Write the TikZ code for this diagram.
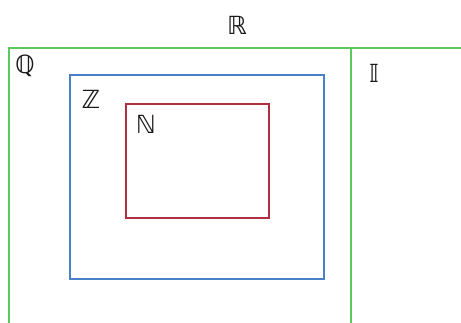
\documentclass[tikz,border=0pt]{standalone}
\usepackage{fontspec}
\newfontfamily\dsfont{DejaVu Sans}
\usetikzlibrary{positioning}
\definecolor{setgreen}{RGB}{92,200,92}
\definecolor{setblue}{RGB}{74,128,200}
\definecolor{setred}{RGB}{176,48,64}
\tikzset{
  setbox/.style={draw, line width=1.6pt, inner sep=0pt, anchor=north west},
  setlabel/.style={inner sep=0pt, font=\dsfont\fontsize{25}{25}\selectfont, text=black!90},
}
\begin{document}
\begin{tikzpicture}[x=1pt,y=-1pt]
\useasboundingbox (0,0) rectangle (461,322);
\clip (0,0) rectangle (461,322);
\fill[white] (0,0) rectangle (461,322);
% outer green frame (extends past the picture edge)
\node[setbox, draw=setgreen, minimum width=480pt, minimum height=300pt] (Q) at (8,47) {};
\coordinate (divtop) at (351,47);
\coordinate (divbot) at (351,330);
\draw[setgreen, line width=1.6pt] (divtop) -- (divbot);
% blue and red boxes
\node[setbox, draw=setblue, minimum width=254pt, minimum height=204pt] (Z) at (69,74) {};
\node[setbox, draw=setred, minimum width=143pt, minimum height=114pt] (N) at (125,103) {};
% labels
\node[setlabel] (Rl) at (237,25) {ℝ};
\node[setlabel] (Ql) at (25,66) {ℚ};
\node[setlabel] (Il) at (374,73) {𝕀};
\node[setlabel] (Zl) at (91,99) {ℤ};
\node[setlabel] (Nl) at (146,124) {ℕ};
\end{tikzpicture}
\end{document}
